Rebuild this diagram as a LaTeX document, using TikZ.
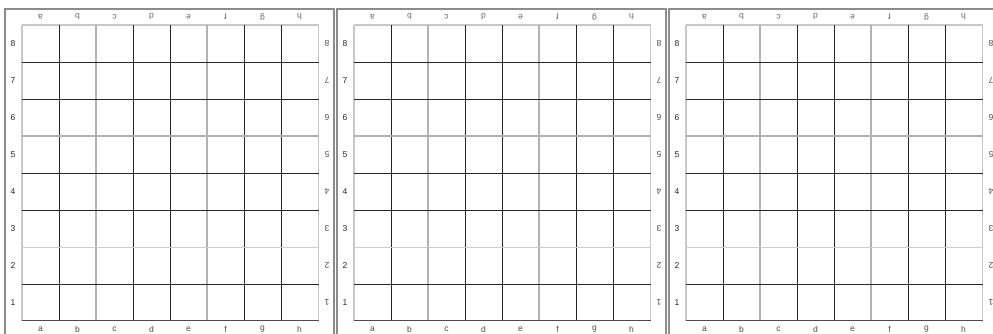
\documentclass[tikz,border=0pt]{standalone}
\usepackage{fontspec}
\setmainfont{Liberation Sans}
\tikzset{
  frame/.style={draw=black!45, line width=1.4pt},
  darkline/.style={draw=black!85, line width=1pt},
  grayline/.style={draw=black!30, line width=2pt},
  lightline/.style={draw=black!20, line width=0.9pt},
  edgeline/.style={draw=black!22, line width=1.2pt},
  bottomline/.style={draw=black!70, line width=1pt},
  lbl/.style={font=\fontsize{8.5}{9}\selectfont, text=black!70, inner sep=0pt},
  toplbl/.style={lbl, rotate=180, text=black!60},
}
\begin{document}
\begin{tikzpicture}[x=1pt,y=-1pt]
\useasboundingbox (0,0) rectangle (993,333);
\clip (0,0) rectangle (993,333);
\fill[white] (0,0) rectangle (993,333);
\foreach \p/\ox in {1/0,2/332,3/664}{
  \begin{scope}[xshift=\ox pt]
    \draw[frame] (5,9) rectangle (334,350);
    % board edges
    \draw[edgeline] (22,25) -- (318.5,25);
    \draw[edgeline] (22,25) -- (22,320.5);
    \draw[edgeline] (318.5,25) -- (318.5,320.5);
    % vertical interior lines
    \foreach \k/\st in {1/darkline,2/grayline,3/darkline,4/darkline,5/grayline,6/darkline,7/darkline}{
      \draw[\st] ({22+37*\k},25) -- ({22+37*\k},320.5);
    }
    % horizontal interior lines
    \foreach \k/\st in {1/darkline,2/darkline,3/grayline,4/darkline,5/darkline,6/lightline,7/darkline}{
      \draw[\st] (22,{25+37*\k}) -- (318.5,{25+37*\k});
    }
    \draw[bottomline] (22,320.5) -- (318.5,320.5);
    % labels
    \foreach \l [count=\i from 0] in {a,b,c,d,e,f,g,h}{
      \node[lbl] (bot\p\l) at ({22+37*(\i+0.5)},329) {\l};
      \node[toplbl] (top\p\l) at ({22+37*(\i+0.5)},17) {\l};
    }
    \foreach \r [count=\i from 0] in {8,7,6,5,4,3,2,1}{
      \node[lbl, text=black!85] (left\p\r) at (13,{25+37*(\i+0.5)}) {\r};
      \node[lbl, rotate=180] (right\p\r) at (327,{25+37*(\i+0.5)}) {\r};
    }
  \end{scope}
}
\end{tikzpicture}
\end{document}
